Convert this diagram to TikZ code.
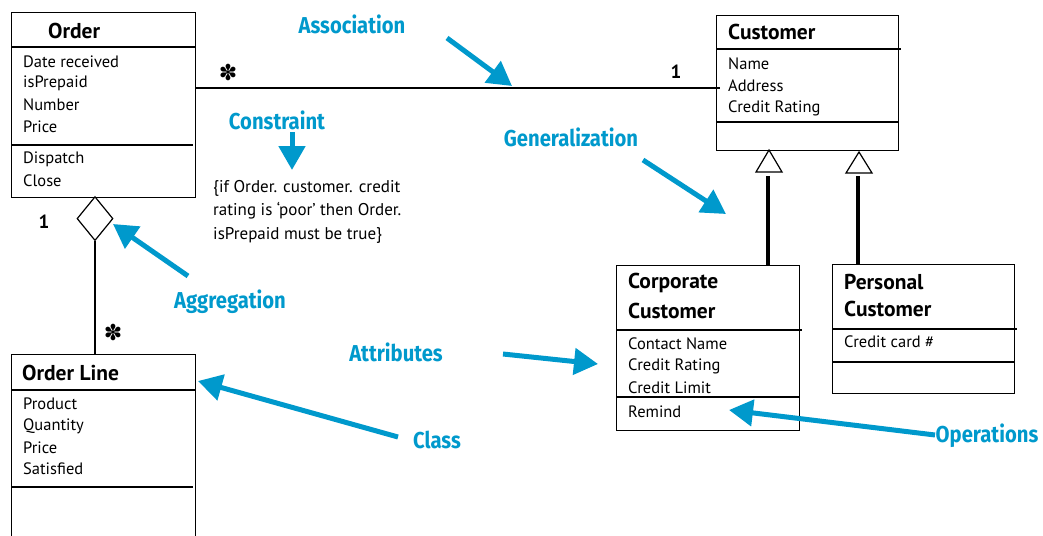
\documentclass[tikz,border=0pt]{standalone}
\usepackage{fontspec}
\setmainfont{PT Sans}
\newfontfamily\lblfont[FakeStretch=0.88]{Fira Sans}
\newfontfamily\symfont{DejaVu Sans}
\usetikzlibrary{arrows.meta,calc,shapes.geometric}
\definecolor{umlblue}{RGB}{0,153,204}
\tikzset{
  cls/.style={draw, line width=1.3pt, rectangle, inner sep=0pt, anchor=north west},
  div/.style={line width=1.8pt},
  ttl/.style={anchor=west, inner sep=0pt, font=\fontsize{21.5}{24}\selectfont\bfseries},
  attr/.style={anchor=west, inner sep=0pt, font=\fontsize{16.5}{18}\selectfont},
  lbl/.style={inner sep=0pt, text=umlblue, font=\lblfont\fontsize{23}{26}\selectfont\bfseries},
  barrow/.style={draw=umlblue, line width=5pt, -{Triangle[length=24pt,width=26pt]}},
  assoc/.style={line width=1.5pt},
  gline/.style={line width=4.5pt},
  gtri/.style={draw, line width=1.2pt, fill=white},
  mult/.style={inner sep=0pt, font=\symfont\fontsize{22}{24}\selectfont\bfseries},
  one/.style={inner sep=0pt, font=\fontsize{19}{20}\selectfont\bfseries}
}
\begin{document}
\begin{tikzpicture}[x=1pt,y=-1pt]
\useasboundingbox (0,0) rectangle (1043,535);
% ---------- Order
\node[cls, minimum width=184pt, minimum height=185pt] (order) at (11,12) {};
\draw[div] (11,47) -- (195,47);
\draw[div] (11,145) -- (193,145);
\node[ttl] (orderT) at (48,31) {Order};
\node[attr] (o1) at (23,62) {Date received};
\node[attr] (o2) at (23,83) {isPrepaid};
\node[attr] (o3) at (23,105) {Number};
\node[attr] (o4) at (23,127) {Price};
\node[attr] (o5) at (23,159) {Dispatch};
\node[attr] (o6) at (23,181) {Close};
% ---------- Order Line
\node[cls, minimum width=184pt, minimum height=185pt] (line) at (11,354) {};
\draw[div] (11,390) -- (195,390);
\draw[div] (11,487) -- (193,487);
\node[ttl] (lineT) at (22,373) {Order Line};
\node[attr] (l1) at (23,404) {Product};
\node[attr] (l2) at (23,426) {Quantity};
\node[attr] (l3) at (23,448) {Price};
\node[attr] (l4) at (23,469) {Satisfied};
% ---------- Customer
\node[cls, minimum width=182pt, minimum height=135pt] (cust) at (716,15) {};
\draw[div] (716,49) -- (901,49);
\draw[div] (716,122) -- (898,122);
\node[ttl] (custT) at (728,32) {Customer};
\node[attr] (c1) at (728,64) {Name};
\node[attr] (c2) at (728,86) {Address};
\node[attr] (c3) at (728,108) {Credit Rating};
% ---------- Corporate Customer
\node[cls, minimum width=183pt, minimum height=165pt] (corp) at (616,265) {};
\draw[div] (616,330) -- (802,330);
\draw[div] (616,397) -- (799,397);
\node[ttl] (corpT1) at (628,283) {Corporate};
\node[ttl] (corpT2) at (628,311) {Customer};
\node[attr] (k1) at (628,344) {Contact Name};
\node[attr] (k2) at (628,366) {Credit Rating};
\node[attr] (k3) at (628,388) {Credit Limit};
\node[attr] (k4) at (628,412) {Remind};
% ---------- Personal Customer
\node[cls, minimum width=182pt, minimum height=129pt] (pers) at (832,264) {};
\draw[div] (832,329) -- (1017,329);
\draw[div] (832,362) -- (1014,362);
\node[ttl] (persT1) at (844,282) {Personal};
\node[ttl] (persT2) at (844,309) {Customer};
\node[attr] (p1) at (844,342) {Credit card \#};
% ---------- Association
\draw[assoc] ($(order.north east)+(0,76)$) -- ($(cust.north west)+(4,73)$);
\node[mult] (m1) at (228,72) {✽};
\node[one] (m2) at (676,72) {1};
% ---------- Aggregation
\node[draw, line width=1.2pt, diamond, minimum width=36pt, minimum height=44pt, inner sep=0pt, anchor=north] (dia) at (95,196) {};
\draw[line width=2pt] (dia.south) -- (line.north -| dia.south);
\node[one] (m3) at (44,222) {1};
\node[mult] (m4) at (113,332) {✽};
% ---------- Generalization
\coordinate (t1) at (769,150);
\coordinate (t2) at (859,152);
\draw[gtri] (t1) -- ++(-13,22) -- ++(26,0) -- cycle;
\draw[gtri] (t2) -- ++(-13,21) -- ++(26,0) -- cycle;
\draw[gline] (corp.north -| 768,0) -- (768,176);
\draw[gline] (pers.north -| 858,0) -- (858,176);
% ---------- Constraint text
\node[anchor=north west, inner sep=0pt, align=left, font=\fontsize{17}{23.5}\selectfont] (cons) at (213,180)
  {\{if Order. customer. credit\\rating is `poor' then Order.\\isPrepaid must be true\}};
% ---------- Blue labels
\node[lbl] (Lassoc) at (352,24) {Association};
\node[lbl] (Lcons) at (277,120) {Constraint};
\node[lbl] (Lgen) at (571,137) {Generalization};
\node[lbl] (Lagg) at (230,302) {Aggregation};
\node[lbl] (Lattr) at (396,352) {Attributes};
\node[lbl] (Lclass) at (437,440) {Class};
\node[lbl] (Lops) at (987,436) {Operations};
% ---------- Blue arrows
\coordinate (a1s) at (447,38);   \coordinate (a1e) at (512,86);
\coordinate (a2s) at (292,132);  \coordinate (a2e) at (292,170);
\coordinate (a3s) at (643,160);  \coordinate (a3e) at (726,214);
\coordinate (a4s) at (188,276);  \coordinate (a4e) at (113,224);
\coordinate (a5s) at (503,354);  \coordinate (a5e) at (598,364);
\coordinate (a6s) at (398,437);  \coordinate (a6e) at (198,381);
\coordinate (a7s) at (935,435);  \coordinate (a7e) at (729,410);
\draw[barrow] (a1s) -- (a1e);
\draw[barrow] (a2s) -- (a2e);
\draw[barrow] (a3s) -- (a3e);
\draw[barrow] (a4s) -- (a4e);
\draw[barrow] (a5s) -- (a5e);
\draw[barrow] (a6s) -- (a6e);
\draw[barrow] (a7s) -- (a7e);
\end{tikzpicture}
\end{document}
